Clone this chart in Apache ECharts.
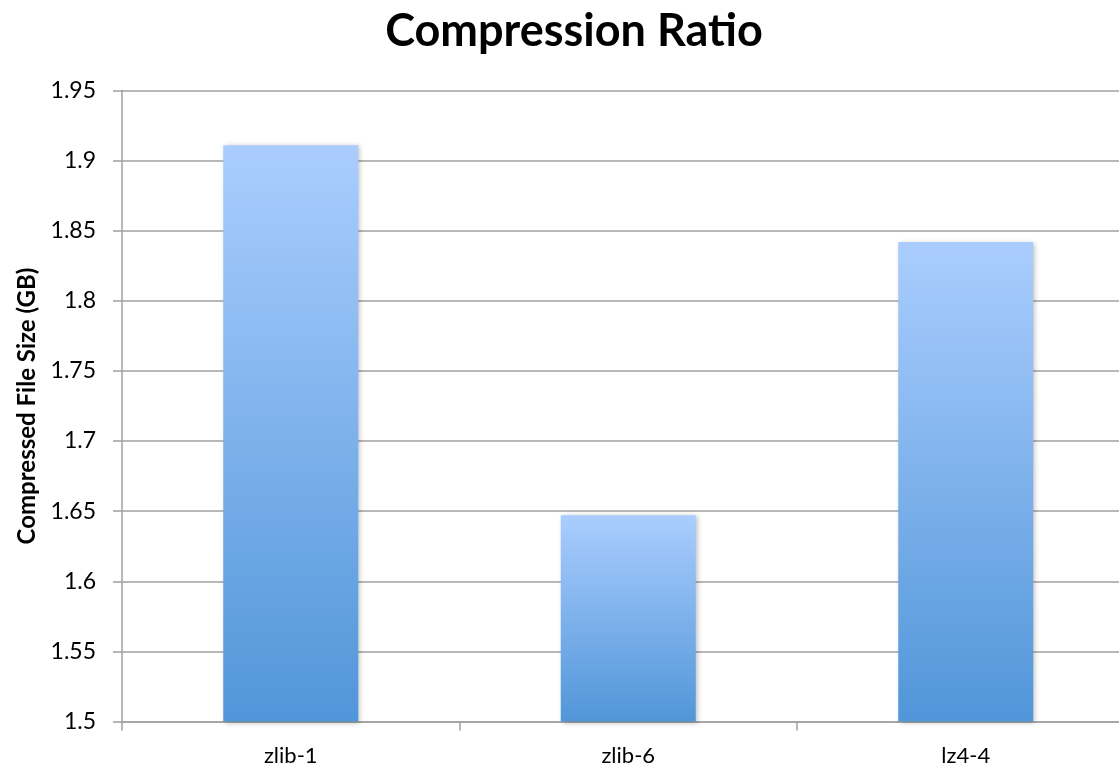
<!DOCTYPE html>
<html><head><meta charset="utf-8">
<script src="https://cdn.jsdelivr.net/npm/echarts@6/dist/echarts.min.js"></script>
<style>html,body{margin:0;padding:0;background:#fff}#c{width:1119px;height:771px}</style>
</head><body><div id="c"></div>
<script>
const categories = ["zlib-1", "zlib-6", "lz4-4"];
const values = [1.911, 1.647, 1.842];
const chartTitle = "Compression Ratio";
const yAxisName = "Compressed File Size (GB)";

const chart = echarts.init(document.getElementById('c'));
chart.setOption({
  animation: false,
  title: {
    text: chartTitle, left: 569, textAlign: 'center', top: 4,
    textStyle: { fontFamily: 'Lato', fontWeight: 'bold', fontSize: 45, color: '#000' }
  },
  grid: { left: 122, top: 90.5, bottom: 49.5, width: 1012.5, outerBoundsMode: 'none', containLabel: false },
  xAxis: {
    type: 'category', data: categories,
    axisLine: { lineStyle: { color: '#a0a0a0', width: 1.5 } },
    axisTick: { show: true, length: 9, alignWithLabel: false, lineStyle: { color: '#a0a0a0', width: 1.5 } },
    axisLabel: { fontFamily: 'Lato', fontSize: 22, color: '#000', margin: 23 }
  },
  yAxis: {
    type: 'value', min: 1.5, max: 1.95, interval: 0.05,
    name: yAxisName, nameLocation: 'middle', nameGap: 82, nameRotate: 90,
    nameTextStyle: { fontFamily: 'Lato', fontWeight: 'bold', fontSize: 24, color: '#000' },
    axisLine: { show: true, lineStyle: { color: '#a0a0a0', width: 1.5 } },
    axisTick: { show: true, length: 9, lineStyle: { color: '#a0a0a0', width: 1.5 } },
    splitLine: { lineStyle: { color: '#a0a0a0', width: 1.5 } },
    axisLabel: { fontFamily: 'Lato', fontSize: 23, color: '#000', margin: 26,
      formatter: v => String(Math.round(v * 100) / 100) }
  },
  series: [{
    type: 'bar', data: values, barWidth: '40%',
    itemStyle: {
      color: new echarts.graphic.LinearGradient(0, 0, 0, 1, [
        { offset: 0, color: '#aacdfe' },
        { offset: 1, color: '#5196d9' }
      ]),
      shadowBlur: 5, shadowColor: 'rgba(0,0,0,0.25)', shadowOffsetX: 2, shadowOffsetY: 1
    }
  }]
});
</script></body></html>
